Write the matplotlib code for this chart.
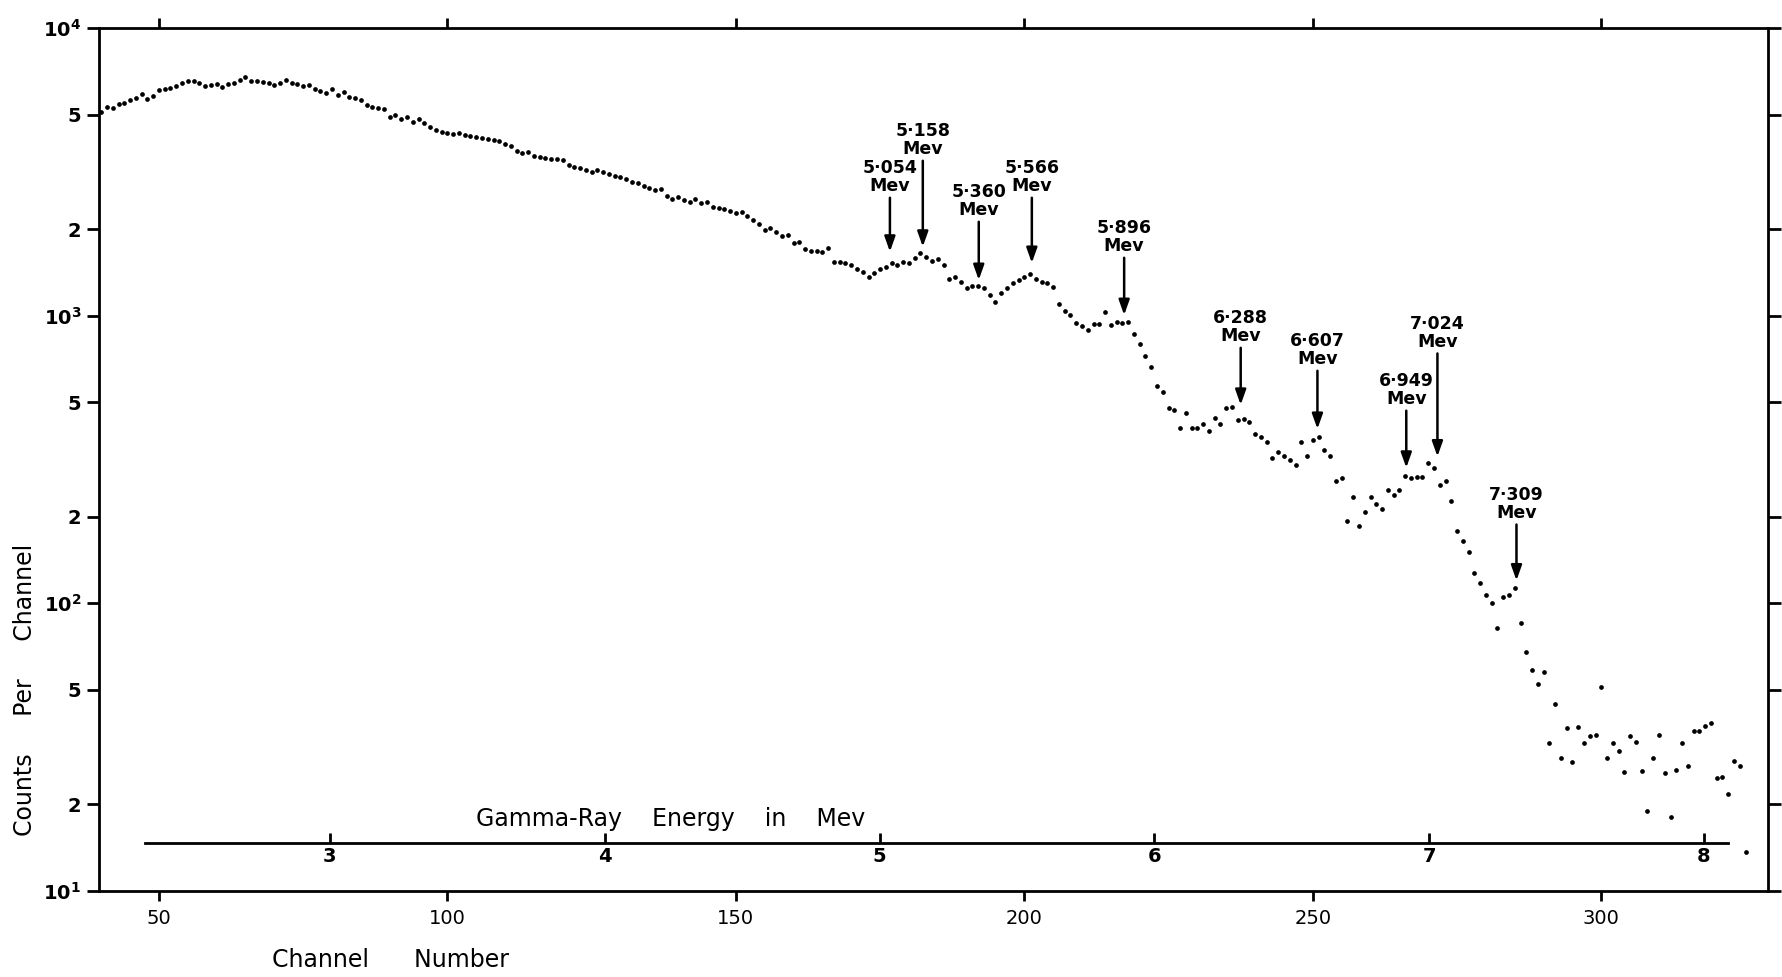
import numpy as np
import matplotlib
matplotlib.use('Agg')
import matplotlib.pyplot as plt
from matplotlib.patches import ArrowStyle
from matplotlib.ticker import NullLocator

plt.rcParams['font.family'] = ['DejaVu Sans']

# Counts per channel (channels 40 .. 325)
counts_low = [  # channels 40-126
    5103, 5323, 5267, 5453, 5483, 5630, 5706, 5906, 5660, 5828,
    6083, 6133, 6216, 6299, 6434, 6557, 6557, 6470, 6315, 6349,
    6384, 6266, 6384, 6470, 6609, 6752, 6574, 6574, 6521, 6434,
    6349, 6434, 6609, 6434, 6384, 6299, 6349, 6150, 6067, 5972,
    6166, 5861, 6003, 5783, 5737, 5630, 5423, 5310, 5267, 5239,
    4926, 4993, 4823, 4926, 4734, 4823, 4671, 4548, 4428, 4346,
    4311, 4289, 4335, 4254, 4221, 4175, 4142, 4110, 4087, 4055,
    3958, 3906, 3752, 3693, 3713, 3596, 3577, 3530, 3511, 3501,
    3483, 3346, 3302, 3275, 3215, 3172, 3215,
]
counts_mid = [  # channels 127-226
    3155, 3113, 3072, 3047, 2991, 2927, 2889, 2828, 2789, 2738,
    2761, 2610, 2548, 2597, 2522, 2481, 2548, 2461, 2495, 2397,
    2378, 2352, 2315, 2272, 2290, 2224, 2154, 2086, 1988, 2015,
    1951, 1894, 1910, 1796, 1810, 1703, 1685, 1685, 1662, 1716,
    1543, 1543, 1522, 1502, 1450, 1424, 1361, 1405, 1455, 1482,
    1522, 1502, 1543, 1522, 1584, 1649, 1597, 1551, 1572, 1502,
    1339, 1368, 1314, 1246, 1269, 1273, 1246, 1181, 1120, 1197,
    1252, 1297, 1332, 1368, 1398, 1339, 1314, 1304, 1256, 1099,
    1042, 1006, 941, 922, 890, 936, 936, 1028, 929, 954,
    941, 949, 862, 796, 726, 665, 571, 542, 479, 470,
]
counts_high = [  # channels 227-325
    408, 458, 408, 408, 421, 398, 440, 419, 477, 480,
    434, 438, 428, 388, 380, 363, 321, 337, 324, 315,
    303, 365, 326, 370, 380, 342, 324, 266, 272, 193,
    234, 186, 208, 235, 221, 212, 247, 238, 248, 276,
    272, 274, 274, 307, 296, 258, 267, 226, 178, 165,
    151, 127, 118, 107, 100, 82, 105, 107, 113, 85,
    67.9, 58.6, 52.4, 57.4, 32.7, 44.6, 28.9, 36.9, 28.1, 37.0,
    32.7, 34.6, 34.8, 51.3, 28.9, 32.6, 30.5, 25.8, 34.4, 32.8,
    26.0, 19.0, 29.0, 34.8, 25.6, 18.1, 26.2, 32.7, 27.2, 36.0,
    36.0, 37.4, 38.4, 24.7, 24.8, 21.7, 28.3, 27.2, 13.6,
]
counts = counts_low + counts_mid + counts_high
channels = np.arange(40, 40 + len(counts))

xtick_values = [50, 100, 150, 200, 250, 300]
ytick_values = [10, 20, 50, 100, 200, 500, 1000, 2000, 5000, 10000]
ytick_labels = [r'$\mathbf{10^1}$', '2', '5', r'$\mathbf{10^2}$', '2', '5',
                r'$\mathbf{10^3}$', '2', '5', r'$\mathbf{10^4}$']

# energy scale: channel at which each MeV mark sits
energy_ticks = [3, 4, 5, 6, 7, 8]
energy_channels = [78.7, 127.4, 175.7, 223.5, 270.0, 317.0]

# marked gamma lines
peak_labels = ['5·054', '5·158', '5·360', '5·566', '5·896',
               '6·288', '6·607', '6·949', '7·024', '7·309']
peak_channels = [176.7, 182.4, 192.1, 201.3, 217.3, 237.5, 250.8, 266.2, 271.6, 285.3]
peak_tips = [1671, 1739, 1332, 1527, 1006, 490, 404, 296, 324, 120]
peak_tails = [2632, 3539, 2171, 2632, 1627, 791, 658, 478, 756, 192]

fig = plt.figure(figsize=(17.83, 9.77), dpi=100)
ax = fig.add_axes([0.0558, 0.0884, 0.9358, 0.8826])

ax.plot(channels, counts, 'o', ms=3.4, mew=0, color='black')

ax.set_yscale('log')
ax.set_ylim(10, 1e4)
ax.set_xlim(39.7, 328.9)
ax.set_yticks(ytick_values)
ax.set_yticklabels(ytick_labels)
ax.yaxis.set_minor_locator(NullLocator())
ax.set_xticks(xtick_values)
ax.tick_params(axis='x', direction='out', length=7, width=2, top=True,
               labelsize=14, pad=6)
ax.tick_params(axis='y', direction='out', length=9, width=2, right=True,
               labelsize=14, pad=4)
for lbl in ax.get_yticklabels():
    lbl.set_fontweight('bold')
for sp in ax.spines.values():
    sp.set_linewidth(2)

# Gamma-ray energy scale inside the plot
slope, offset = np.polyfit(energy_ticks, energy_channels, 1)


def channel_to_mev(c):
    return (np.asarray(c) - offset) / slope


def mev_to_channel(e):
    return np.asarray(e) * slope + offset


sec = ax.secondary_xaxis(0.0553, functions=(channel_to_mev, mev_to_channel))
sec.set_xticks(energy_ticks)
sec.tick_params(direction='in', length=7, width=2, labelsize=14, pad=3)
for lbl in sec.get_xticklabels():
    lbl.set_fontweight('bold')
sec.spines['bottom'].set_bounds(channel_to_mev(47.6), channel_to_mev(322.0))
sec.spines['bottom'].set_linewidth(2)
ax.text(0.342, 0.083, 'Gamma-Ray    Energy    in    Mev', transform=ax.transAxes,
        ha='center', va='center', fontsize=17)

# peak arrows
head = ArrowStyle('-|>', head_length=0.45, head_width=0.16)
for label, c, tip, tail in zip(peak_labels, peak_channels, peak_tips, peak_tails):
    ax.annotate(label + '\nMev', xy=(c, tip), xytext=(c, tail),
                ha='center', va='bottom', fontsize=12.5, fontweight='bold',
                linespacing=1.0,
                arrowprops=dict(arrowstyle=head, color='black', lw=1.8,
                                shrinkA=0, shrinkB=0, mutation_scale=20))

fig.text(0.219, 0.0174, 'Channel      Number', ha='center', va='center', fontsize=17)
fig.text(0.014, 0.294, 'Counts     Per     Channel', rotation=90,
         ha='center', va='center', fontsize=17)

fig.savefig('out.png', dpi=100)
